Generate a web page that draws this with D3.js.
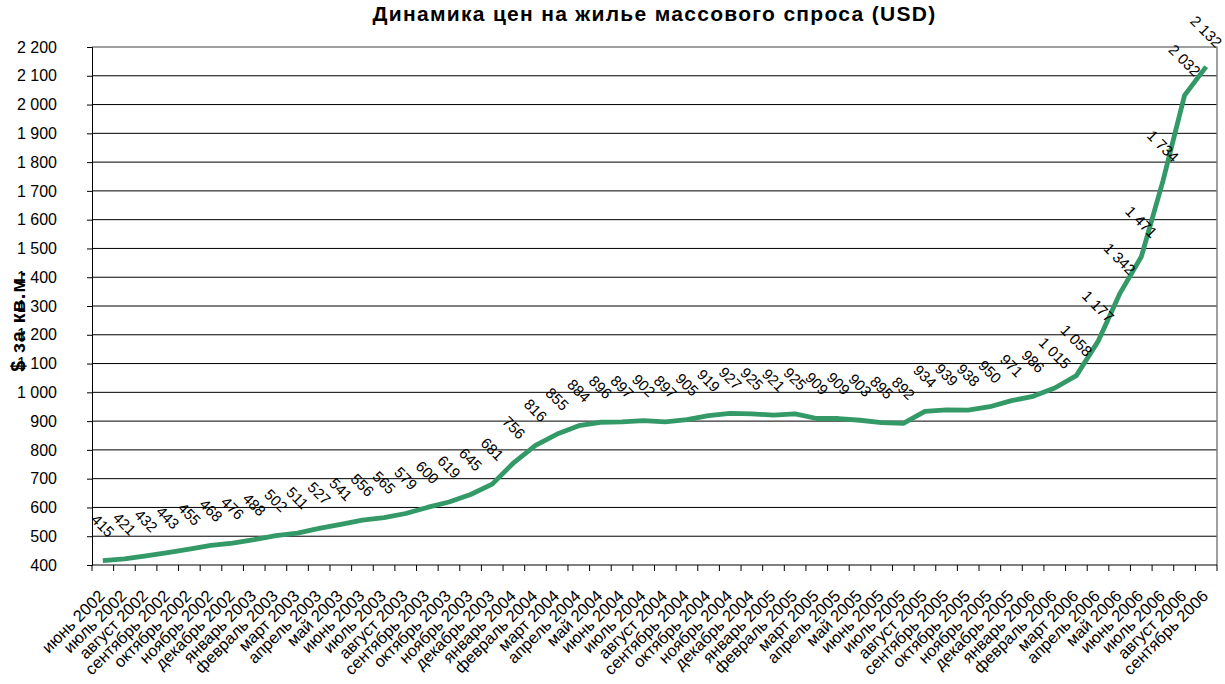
<!DOCTYPE html>
<html>
<head>
<meta charset="utf-8">
<script src="https://cdn.jsdelivr.net/npm/d3@7"></script>
<style>
  body { margin: 0; background: #fff; }
  svg text { font-family: Arial, "Liberation Sans", sans-serif; fill: #000; }
</style>
</head>
<body>
<div id="chart"></div>
<script>
// months on the x axis
var months = ["июнь 2002","июль 2002","август 2002","сентябрь 2002","октябрь 2002","ноябрь 2002","декабрь 2002",
  "январь 2003","февраль 2003","март 2003","апрель 2003","май 2003","июнь 2003","июль 2003","август 2003",
  "сентябрь 2003","октябрь 2003","ноябрь 2003","декабрь 2003",
  "январь 2004","февраль 2004","март 2004","апрель 2004","май 2004","июнь 2004","июль 2004","август 2004",
  "сентябрь 2004","октябрь 2004","ноябрь 2004","декабрь 2004",
  "январь 2005","февраль 2005","март 2005","апрель 2005","май 2005","июнь 2005","июль 2005","август 2005",
  "сентябрь 2005","октябрь 2005","ноябрь 2005","декабрь 2005",
  "январь 2006","февраль 2006","март 2006","апрель 2006","май 2006","июнь 2006","июль 2006","август 2006",
  "сентябрь 2006"];

// price, $ per sq.m.
var prices = [415,421,432,443,455,468,476,488,502,511,527,541,556,565,579,600,619,645,681,
  756,816,855,884,896,897,902,897,905,919,927,925,921,925,909,909,903,895,892,
  934,939,938,950,971,986,1015,1058,1177,1342,1471,1734,2032,2132];

var yTicks = [400,500,600,700,800,900,1000,1100,1200,1300,1400,1500,1600,1700,1800,1900,2000,2100,2200];

var chartTitle = "Динамика цен на жилье массового спроса (USD)";
var yTitle = "$ за кв.м.";

// number format with space as thousands separator
var ru = d3.formatLocale({decimal: ",", thousands: " ", grouping: [3], currency: ["", ""]});
var fmt = ru.format(",d");

// Set Dimension
var W = 1225, H = 684;
var margin = {top: 47, right: 8, bottom: 119, left: 92},
    width = W - margin.left - margin.right,
    height = H - margin.top - margin.bottom;

var svg = d3.select("#chart")
  .append("svg")
  .attr("width", W)
  .attr("height", H);

var g = svg.append("g")
  .attr("transform", "translate(" + margin.left + "," + margin.top + ")");

var x = d3.scaleBand().domain(months).range([0, width]).padding(0);
var y = d3.scaleLinear().domain([400, 2200]).range([height, 0]);

// grid lines
g.append("g").selectAll("line")
  .data(yTicks.slice(1, -1))
  .enter().append("line")
  .attr("x1", 0).attr("x2", width)
  .attr("y1", function(d) { return y(d); })
  .attr("y2", function(d) { return y(d); })
  .attr("stroke", "#000")
  .attr("stroke-width", 1);

// plot frame top / right
g.append("path")
  .attr("d", "M0," + y(2200) + "H" + width + "V" + height)
  .attr("fill", "none")
  .attr("stroke", "#808080")
  .attr("stroke-width", 1.5);

// Y axis
var yAxis = g.append("g")
  .call(d3.axisLeft(y).tickValues(yTicks).tickSize(5).tickPadding(30)
    .tickFormat(function(d) { return fmt(d); }));
yAxis.select(".domain").attr("stroke", "#000");
yAxis.selectAll("text").style("font-size", "16px").attr("fill", "#000");

// X axis: ticks on band edges
var xAxis = g.append("g").attr("transform", "translate(0," + height + ")");
xAxis.append("line")
  .attr("x1", 0).attr("x2", width)
  .attr("stroke", "#000");
xAxis.selectAll(".tk")
  .data(months.concat(["end"]))
  .enter().append("line")
  .attr("class", "tk")
  .attr("x1", function(d, i) { return i * x.bandwidth(); })
  .attr("x2", function(d, i) { return i * x.bandwidth(); })
  .attr("y1", 0).attr("y2", 6)
  .attr("stroke", "#000");

xAxis.selectAll(".lbl")
  .data(months)
  .enter().append("text")
  .attr("class", "lbl")
  .attr("transform", function(d) {
    return "translate(" + (x(d) + x.bandwidth() / 2 + 3) + ",32) rotate(-45)";
  })
  .style("text-anchor", "end")
  .style("font-size", "16.5px")
  .text(function(d) { return d; });

// line
var line = d3.line()
  .x(function(d, i) { return x(months[i]) + x.bandwidth() / 2; })
  .y(function(d) { return y(d); });

g.append("path")
  .datum(prices)
  .attr("d", line)
  .attr("fill", "none")
  .attr("stroke", "#339966")
  .attr("stroke-width", 4.8)
  .attr("stroke-linejoin", "round");

// data labels
g.append("g").selectAll("text")
  .data(prices)
  .enter().append("text")
  .attr("transform", function(d, i) {
    return "translate(" + (x(months[i]) + x.bandwidth() / 2) + "," + (y(d) - 35) + ") rotate(45)";
  })
  .style("text-anchor", "middle")
  .attr("dy", "0.35em")
  .style("font-size", "15px")
  .text(function(d) { return fmt(d); });

// titles
svg.append("text")
  .attr("x", margin.left + width / 2)
  .attr("y", 21)
  .style("text-anchor", "middle")
  .style("font-size", "21px")
  .style("font-weight", "bold")
  .style("letter-spacing", "1.3px")
  .text(chartTitle);

svg.append("text")
  .attr("transform", "translate(25,321) rotate(-90)")
  .style("text-anchor", "middle")
  .style("font-size", "20px")
  .style("font-weight", "bold")
  .style("letter-spacing", "1px")
  .text(yTitle);
</script>
</body>
</html>
